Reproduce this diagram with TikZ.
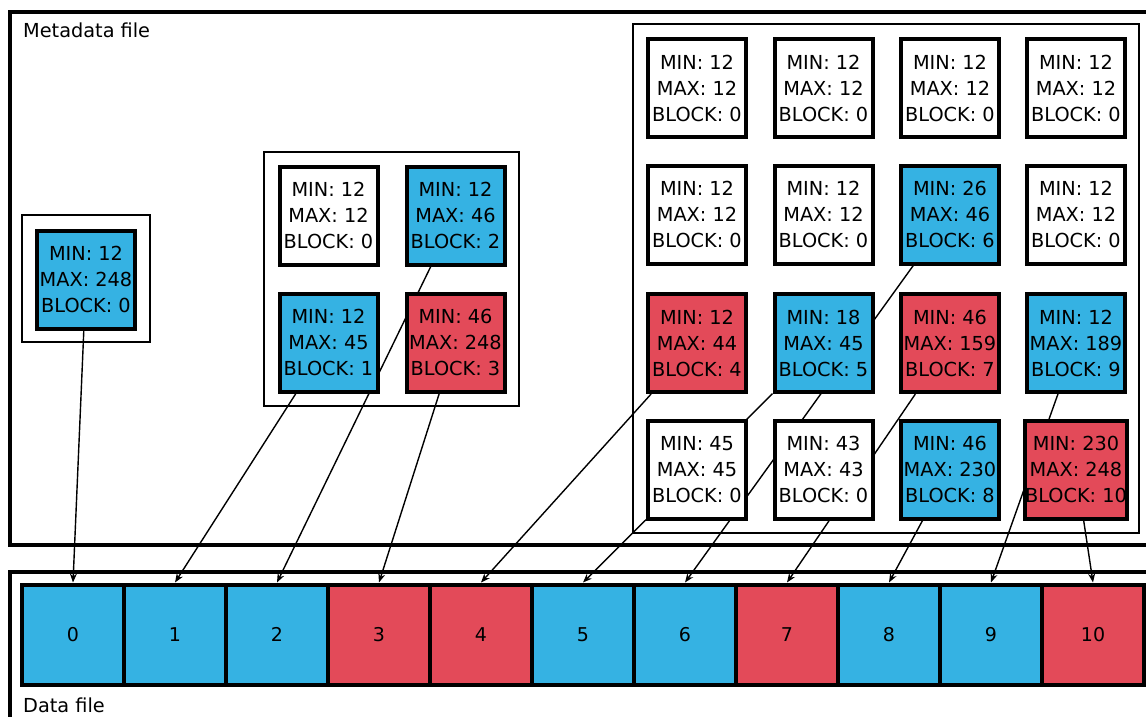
\documentclass[tikz,border=0pt]{standalone}
\usepackage{fontspec}
\setmainfont{DejaVu Sans}
\usetikzlibrary{arrows.meta,positioning}
\definecolor{blockblue}{RGB}{53,178,227}
\definecolor{blockred}{RGB}{227,74,89}
\pgfdeclarelayer{background}
\pgfsetlayers{background,main}

\begin{document}
\begin{tikzpicture}[x=1pt, y=-1pt,
    cellbox/.style={draw=black, line width=4pt, fill=white, align=center, font=\fontsize{19.3}{26}\selectfont, minimum width=98pt, minimum height=98pt, inner sep=0pt},
    bluecell/.style={cellbox, fill=blockblue},
    redcell/.style={cellbox, fill=blockred},
    datablock/.style={draw=black, line width=4pt, font=\fontsize{19}{22}\selectfont, minimum width=102pt, minimum height=100pt, inner sep=0pt},
    blueblock/.style={datablock, fill=blockblue},
    redblock/.style={datablock, fill=blockred},
    groupbox/.style={draw=black, line width=1.4pt},
    filebox/.style={draw=black, line width=4pt},
    filelabel/.style={font=\fontsize{19.3}{22}\selectfont, anchor=west, inner sep=0pt},
    link/.style={draw=black, line width=1.4pt, -{Stealth[length=9pt,width=7pt]}}
  ]
    \useasboundingbox (0,0) rectangle (1146,717);
    \clip (0,0) rectangle (1146,717);

    % files
    \draw[filebox] (10,12) rectangle (1152,545);
    \draw[filebox] (10,572) rectangle (1152,725);
    \node[filelabel] (metalabel) at (23,30) {Metadata file};
    \node[filelabel] (datalabel) at (23,705) {Data file};

    % index levels
    \draw[groupbox] (22,215) rectangle (150,342);
    \draw[groupbox] (264,152) rectangle (519,406);
    \draw[groupbox] (633,24) rectangle (1139,533);

    \node[bluecell] (root) at (86,279.5) {MIN: 12\\MAX: 248\\BLOCK: 0};

    \node[cellbox] (a11) at (328.5,215.5) {MIN: 12\\MAX: 12\\BLOCK: 0};
    \node[bluecell] (a12) at (455.5,215.5) {MIN: 12\\MAX: 46\\BLOCK: 2};
    \node[bluecell] (a21) at (328.5,342.5) {MIN: 12\\MAX: 45\\BLOCK: 1};
    \node[redcell] (a22) at (455.5,342.5) {MIN: 46\\MAX: 248\\BLOCK: 3};

    \node[cellbox] (b11) at (697,88) {MIN: 12\\MAX: 12\\BLOCK: 0};
    \node[cellbox] (b12) at (823.5,88) {MIN: 12\\MAX: 12\\BLOCK: 0};
    \node[cellbox] (b13) at (950,88) {MIN: 12\\MAX: 12\\BLOCK: 0};
    \node[cellbox] (b14) at (1076,88) {MIN: 12\\MAX: 12\\BLOCK: 0};

    \node[cellbox] (b21) at (697,214.5) {MIN: 12\\MAX: 12\\BLOCK: 0};
    \node[cellbox] (b22) at (823.5,214.5) {MIN: 12\\MAX: 12\\BLOCK: 0};
    \node[bluecell] (b23) at (950,214.5) {MIN: 26\\MAX: 46\\BLOCK: 6};
    \node[cellbox] (b24) at (1076,214.5) {MIN: 12\\MAX: 12\\BLOCK: 0};

    \node[redcell] (b31) at (697,343) {MIN: 12\\MAX: 44\\BLOCK: 4};
    \node[bluecell] (b32) at (823.5,343) {MIN: 18\\MAX: 45\\BLOCK: 5};
    \node[redcell] (b33) at (950,343) {MIN: 46\\MAX: 159\\BLOCK: 7};
    \node[bluecell] (b34) at (1076,343) {MIN: 12\\MAX: 189\\BLOCK: 9};

    \node[cellbox] (b41) at (697,469.5) {MIN: 45\\MAX: 45\\BLOCK: 0};
    \node[cellbox] (b42) at (823.5,469.5) {MIN: 43\\MAX: 43\\BLOCK: 0};
    \node[bluecell] (b43) at (950,469.5) {MIN: 46\\MAX: 230\\BLOCK: 8};
    \node[redcell] (b44) at (1076,469.5) {MIN: 230\\MAX: 248\\BLOCK: 10};

    % data blocks
    \node[blueblock] (d0) at (73,634.5) {0};
    \node[blueblock] (d1) at (175,634.5) {1};
    \node[blueblock] (d2) at (277,634.5) {2};
    \node[redblock] (d3) at (379,634.5) {3};
    \node[redblock] (d4) at (481,634.5) {4};
    \node[blueblock] (d5) at (583,634.5) {5};
    \node[blueblock] (d6) at (685,634.5) {6};
    \node[redblock] (d7) at (787,634.5) {7};
    \node[blueblock] (d8) at (889,634.5) {8};
    \node[blueblock] (d9) at (991,634.5) {9};
    \node[redblock] (d10) at (1093,634.5) {10};

    \begin{pgfonlayer}{background}
      \draw[link] (root) -- (d0.north);
      \draw[link] (a21) -- (d1.north);
      \draw[link] (a12) -- (d2.north);
      \draw[link] (a22) -- (d3.north);
      \draw[link] (b31) -- (d4.north);
      \draw[link] (b32) -- (d5.north);
      \draw[link] (b23) -- (d6.north);
      \draw[link] (b33) -- (d7.north);
      \draw[link] (b43) -- (d8.north);
      \draw[link] (b34) -- (d9.north);
      \draw[link] (b44) -- (d10.north);
    \end{pgfonlayer}
  \end{tikzpicture}
\end{document}
